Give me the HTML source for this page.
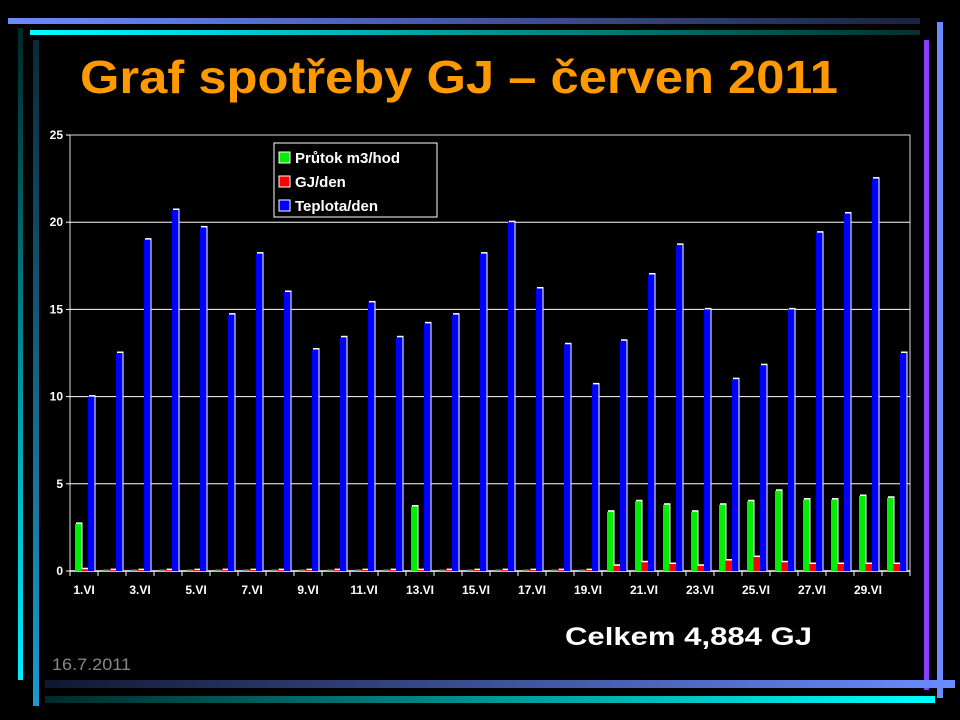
<!DOCTYPE html>
<html><head><meta charset="utf-8"><style>
html,body{margin:0;padding:0;background:#000;width:960px;height:720px;overflow:hidden}
svg{display:block;font-family:"Liberation Sans",sans-serif}
</style></head><body>
<svg id="s" width="960" height="720" viewBox="0 0 960 720">
<defs>
<linearGradient id="gTop" x1="0" x2="1"><stop offset="0" stop-color="#6a8cff"/><stop offset="1" stop-color="#1a2240"/></linearGradient>
<linearGradient id="gCy" x1="0" x2="1"><stop offset="0" stop-color="#00ffff"/><stop offset="1" stop-color="#00302f"/></linearGradient>
<linearGradient id="gBot" x1="0" x2="1"><stop offset="0" stop-color="#101830"/><stop offset="1" stop-color="#6a8cff"/></linearGradient>
<linearGradient id="gCy2" x1="0" x2="1"><stop offset="0" stop-color="#002a2a"/><stop offset="1" stop-color="#00ffff"/></linearGradient>
<linearGradient id="gV1" x1="0" y1="0" x2="0" y2="1"><stop offset="0" stop-color="#002828"/><stop offset="1" stop-color="#00eeff"/></linearGradient>
<linearGradient id="gV2" x1="0" y1="0" x2="0" y2="1"><stop offset="0" stop-color="#0a2a3a"/><stop offset="1" stop-color="#1a9ad0"/></linearGradient>
</defs>
<rect x="8" y="18" width="912" height="6" fill="url(#gTop)"/>
<rect x="30" y="30" width="890" height="5" fill="url(#gCy)"/>
<rect x="18" y="28" width="5" height="652" fill="url(#gV1)"/>
<rect x="33" y="40" width="6" height="666" fill="url(#gV2)"/>
<rect x="937" y="22" width="6" height="676" fill="#6a8cff"/>
<rect x="924" y="40" width="5" height="650" fill="#8a3cff"/>
<rect x="45" y="680" width="910" height="8" fill="url(#gBot)"/>
<rect x="45" y="696" width="890" height="7" fill="url(#gCy2)"/>
<text x="80" y="93" font-size="46" font-weight="bold" fill="#ff9900" textLength="758" lengthAdjust="spacingAndGlyphs">Graf spotřeby GJ – červen 2011</text>
<g id="chart"></g>
<text x="565" y="645" font-size="25" font-weight="bold" fill="#fff" textLength="247" lengthAdjust="spacingAndGlyphs">Celkem 4,884 GJ</text>
<text x="52" y="670" font-size="17" fill="#888" textLength="79" lengthAdjust="spacingAndGlyphs">16.7.2011</text>
</svg>
<script>
const days = Array.from({length:30},(_,i)=>(i+1)+'.VI');
const prutok = [2.7,0,0,0,0,0,0,0,0,0,0,0,3.7,0,0,0,0,0,0,3.4,4.0,3.8,3.4,3.8,4.0,4.6,4.1,4.1,4.3,4.2];
const gj = [0.1,0.05,0.05,0.05,0.05,0.05,0.05,0.05,0.05,0.05,0.05,0.05,0.05,0.05,0.05,0.05,0.05,0.05,0.05,0.3,0.5,0.4,0.3,0.6,0.8,0.5,0.4,0.4,0.4,0.4];
const teplota = [10,12.5,19,20.7,19.7,14.7,18.2,16,12.7,13.4,15.4,13.4,14.2,14.7,18.2,20,16.2,13,10.7,13.2,17,18.7,15,11,11.8,15,19.4,20.5,22.5,12.5];
const yTicks = [0,5,10,15,20,25];
const series = [{name:'Průtok m3/hod',vals:prutok,col:'#00ee00',key:'prutok'},{name:'GJ/den',vals:gj,col:'#ff0000',key:'gj'},{name:'Teplota/den',vals:teplota,col:'#0000ff',key:'teplota'}];

const NS='http://www.w3.org/2000/svg';
const g=document.getElementById('chart');
const X0=70,X1=910,Y0=571,Y1=135,YMAX=25;
const cw=(X1-X0)/days.length;
const y=v=>Y0-(v/YMAX)*(Y0-Y1);
const xc=i=>X0+i*cw;
function mk(t,a,p){const e=document.createElementNS(NS,t);for(const k in a)e.setAttribute(k,a[k]);(p||g).appendChild(e);return e;}
let e=mk('rect',{x:X0,y:Y1,width:X1-X0,height:Y0-Y1,fill:'#000',stroke:'#ddd','stroke-width':1});


yTicks.forEach(t=>{
  if(t>0&&t<YMAX){let l=mk('line',{x1:X0,x2:X1,y1:y(t),y2:y(t),stroke:'#fff','stroke-width':1});
  
  }
  let tk=mk('line',{x1:X0-4,x2:X0,y1:y(t),y2:y(t),stroke:'#fff'});
  
  
  let tx=mk('text',{x:X0-7,y:y(t)+4,'text-anchor':'end','font-size':12,'font-weight':'bold',fill:'#fff'});
  tx.textContent=t;
  
  
});
mk('line',{x1:X0,x2:X1,y1:Y0,y2:Y0,stroke:'#fff','stroke-width':1.5});
for(let i=0;i<=days.length;i++){let tk=mk('line',{x1:xc(i),x2:xc(i),y1:Y0,y2:Y0+5,stroke:'#fff'});
  
  }
days.forEach((d,i)=>{
  if(i%2===0){let tx=mk('text',{x:xc(i)+cw/2,y:594,'text-anchor':'middle','font-size':12,'font-weight':'bold',fill:'#fff'});
  tx.textContent=d;
  
  }
  series.forEach((s,k)=>{
    const bx=xc(i)+5+k*6.5, v=s.vals[i];
    const top=y(v);
    if(v<=0){let r=mk('rect',{x:bx,y:Y0-1.5,width:6.5,height:1.5,fill:'#888'});
      
      return;}
    mk('rect',{x:bx+1,y:top-1.5,width:6.5,height:Y0-top+1.5,fill:'#fff'});
    let r=mk('rect',{x:bx,y:top,width:6.5,height:Y0-top,fill:s.col});
    
    
  });
});
let lg=mk('g',{});


mk('rect',{x:274,y:143,width:163,height:74,fill:'#000',stroke:'#fff'},lg);
series.forEach((s,k)=>{
  const yy=152+k*24;
  mk('rect',{x:279,y:yy,width:11,height:11,fill:s.col,stroke:'#fff'},lg);
  let t=mk('text',{x:295,y:yy+11,'font-size':15,'font-weight':'bold',fill:'#fff'},lg);
  t.textContent=s.name;
  
  
});
</script>
</body></html>
